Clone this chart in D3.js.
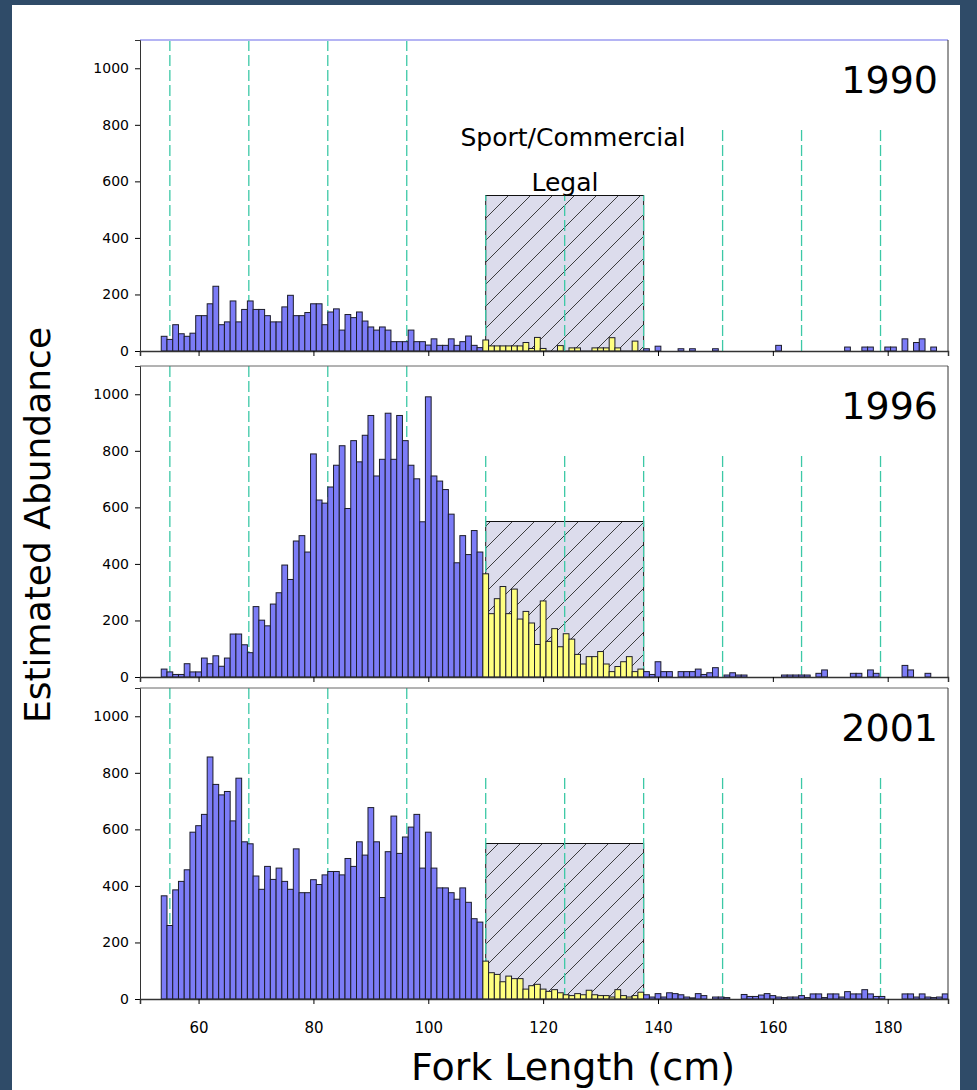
<!DOCTYPE html>
<html>
<head>
<meta charset="utf-8">
<script src="https://cdn.jsdelivr.net/npm/d3@7"></script>
<style>
  html, body { margin: 0; padding: 0; background: #2f4b68; }
  svg { display: block; }
  text { font-family: "Comic Sans MS", "DejaVu Sans", sans-serif; fill: #000; }
</style>
</head>
<body>
<main></main>
<script>
const years = ["1990", "1996", "2001"];
const firstBin = 54;

// counts per 1 cm bin, 54..190 cm
const counts1990 = [
  52, 41, 93, 61, 52, 63, 125, 125, 167, 229,
  93, 103, 177, 103, 147, 177, 147, 147, 125, 103,
  103, 156, 197, 125, 125, 136, 167, 167, 93, 138,
  149, 74, 129, 118, 138, 106, 85, 74, 85, 74,
  33, 33, 33, 74, 33, 33, 21, 43, 20, 20,
  43, 20, 33, 53, 20, 12, 39, 18, 18, 18,
  18, 18, 18, 30, 9, 48, 9, 0, 0, 19,
  0, 11, 11, 0, 0, 11, 11, 11, 47, 11,
  0, 0, 35, 0, 8, 0, 17, 0, 0, 0,
  8, 0, 8, 0, 0, 0, 8, 0, 0, 0,
  0, 0, 0, 0, 0, 0, 0, 20, 0, 0,
  0, 0, 0, 0, 0, 0, 0, 0, 0, 14,
  0, 0, 14, 14, 0, 0, 14, 14, 0, 43,
  0, 30, 43, 0, 14, 0, 0
];
const counts1996 = [
  28, 18, 9, 9, 47, 18, 18, 67, 47, 75,
  38, 67, 152, 152, 114, 86, 249, 201, 181, 258,
  298, 396, 345, 481, 500, 442, 789, 626, 615, 672,
  749, 818, 596, 836, 761, 855, 925, 711, 770, 933,
  770, 925, 836, 749, 701, 549, 991, 711, 693, 663,
  576, 404, 500, 433, 518, 442, 365, 224, 277, 320,
  224, 311, 205, 232, 191, 115, 269, 126, 171, 107,
  153, 134, 80, 46, 72, 72, 90, 46, 19, 37,
  54, 72, 19, 28, 19, 9, 54, 19, 19, 0,
  19, 19, 19, 28, 9, 15, 33, 0, 7, 15,
  7, 7, 0, 0, 0, 0, 0, 0, 7, 7,
  7, 7, 7, 0, 13, 25, 0, 0, 0, 0,
  13, 13, 0, 25, 13, 0, 0, 0, 0, 41,
  25, 0, 0, 13, 0, 0, 0
];
const counts2001 = [
  365, 260, 386, 416, 457, 590, 613, 653, 856, 759,
  722, 734, 630, 781, 556, 549, 435, 388, 469, 423,
  463, 416, 388, 531, 376, 376, 422, 405, 439, 451,
  451, 439, 497, 469, 556, 509, 677, 556, 359, 521,
  647, 515, 573, 608, 653, 463, 590, 463, 393, 393,
  376, 353, 393, 342, 284, 272, 134, 93, 87, 61,
  81, 72, 72, 35, 47, 52, 35, 27, 33, 22,
  15, 12, 19, 15, 31, 15, 12, 12, 7, 33,
  12, 7, 12, 24, 15, 7, 19, 7, 22, 19,
  15, 7, 4, 19, 12, 0, 7, 7, 5, 0,
  0, 16, 9, 9, 14, 19, 12, 7, 5, 7,
  7, 12, 5, 18, 18, 5, 18, 18, 7, 26,
  18, 18, 33, 18, 9, 9, 0, 0, 0, 18,
  18, 7, 18, 7, 5, 7, 18
];
const allCounts = [counts1990, counts1996, counts2001];

// legal slot and guide lines
const slotMin = 110;
const slotMax = 137.5;
const slotHeight = 550;
const guideLines = [55, 68.75, 82.5, 96.25, 110, 123.75, 137.5, 151.25, 165, 178.75];
const guideTopRight = 790;

const yTicks = [0, 200, 400, 600, 800, 1000];
const xTicks = [60, 80, 100, 120, 140, 160, 180];

const w = 977;
const h = 1090;
const left = 140;
const right = 948;
const panels = [
  { top: 40, bottom: 351 },
  { top: 366, bottom: 677 },
  { top: 688, bottom: 999 }
];

const svg = d3.select("main")
  .append("svg")
  .attr("width", w)
  .attr("height", h);

svg.append("rect")
  .attr("x", 12)
  .attr("y", 5)
  .attr("width", 948)
  .attr("height", h - 5)
  .attr("fill", "#fff");

const defs = svg.append("defs");
const hatch = defs.append("pattern")
  .attr("id", "hatch")
  .attr("patternUnits", "userSpaceOnUse")
  .attr("width", 22)
  .attr("height", 22);
hatch.append("rect")
  .attr("width", 22)
  .attr("height", 22)
  .attr("fill", "#dcdcec");
hatch.append("path")
  .attr("d", "M0,22 L22,0 M-3,3 L3,-3 M19,25 L25,19")
  .attr("stroke", "#2a2a2a")
  .attr("stroke-width", 0.9);

const x = d3.scaleLinear()
  .domain([49.8, 190.5])
  .range([left, right]);
const binW = x(1) - x(0);

panels.forEach((p, i) => {
  const counts = allCounts[i];
  const g = svg.append("g");

  const y = d3.scaleLinear()
    .domain([0, 1100])
    .range([p.bottom, p.top]);

  g.append("clipPath")
    .attr("id", "clip" + i)
    .append("rect")
    .attr("x", left)
    .attr("y", p.top)
    .attr("width", right - left)
    .attr("height", p.bottom - p.top);

  // hatched legal slot
  g.append("rect")
    .attr("x", x(slotMin))
    .attr("y", y(slotHeight))
    .attr("width", x(slotMax) - x(slotMin))
    .attr("height", y(0) - y(slotHeight))
    .attr("fill", "url(#hatch)")
    .attr("stroke", "#111")
    .attr("stroke-width", 1);

  g.selectAll(".guide")
    .data(guideLines)
    .enter()
    .append("line")
    .attr("class", "guide")
    .attr("x1", d => x(d))
    .attr("x2", d => x(d))
    .attr("y1", y(0))
    .attr("y2", d => {
      if (d < slotMin) return y(1100);
      if (i === 0 && d <= slotMax) return y(slotHeight);
      return y(guideTopRight);
    })
    .attr("stroke", "#3cc8a6")
    .attr("stroke-width", 1.3)
    .attr("stroke-dasharray", "11,4");

  const bins = counts.map((v, k) => ({ len: firstBin + k, value: v }))
    .filter(d => d.value > 0);

  g.append("g")
    .attr("clip-path", `url(#clip${i})`)
    .selectAll("rect")
    .data(bins)
    .enter()
    .append("rect")
    .attr("x", d => x(d.len - 0.5))
    .attr("y", d => y(d.value))
    .attr("width", binW)
    .attr("height", d => y(0) - y(d.value))
    .attr("fill", d => (d.len >= slotMin && d.len < slotMax) ? "#ffff80" : "#7c7cf7")
    .attr("stroke", "#1c1c2a")
    .attr("stroke-width", 1);

  // frame
  g.append("line")
    .attr("x1", left).attr("x2", right)
    .attr("y1", p.top).attr("y2", p.top)
    .attr("stroke", i === 0 ? "#b4b4f4" : "#666")
    .attr("stroke-width", i === 0 ? 2 : 1);
  g.append("line")
    .attr("x1", right).attr("x2", right)
    .attr("y1", p.top).attr("y2", p.bottom)
    .attr("stroke", "#333");

  const yAxis = g.append("g")
    .attr("transform", `translate(${left},0)`)
    .call(d3.axisLeft(y).tickValues(yTicks).tickFormat(d3.format("d")).tickSize(5).tickPadding(6));
  yAxis.selectAll("text").style("font-size", "14px");
  yAxis.select(".domain").attr("stroke", "#333");

  const xAxis = g.append("g")
    .attr("transform", `translate(0,${p.bottom})`)
    .call(d3.axisBottom(x).tickValues(xTicks).tickSize(5).tickPadding(18));
  xAxis.select(".domain").attr("stroke", "#333").attr("stroke-width", 1.5);
  xAxis.selectAll("text")
    .style("font-size", "15px")
    .style("display", i === 2 ? null : "none");

  g.append("text")
    .attr("x", 938)
    .attr("y", p.top + 53)
    .attr("text-anchor", "end")
    .style("font-size", "38px")
    .text(years[i]);
});

svg.append("text")
  .attr("x", 573)
  .attr("y", 146)
  .attr("text-anchor", "middle")
  .style("font-size", "25px")
  .text("Sport/Commercial");
svg.append("text")
  .attr("x", 565)
  .attr("y", 191)
  .attr("text-anchor", "middle")
  .style("font-size", "25px")
  .text("Legal");

svg.append("text")
  .attr("transform", "translate(50,525)rotate(-90)")
  .attr("text-anchor", "middle")
  .style("font-size", "36px")
  .text("Estimated Abundance");

svg.append("text")
  .attr("x", 573)
  .attr("y", 1080)
  .attr("text-anchor", "middle")
  .style("font-size", "38px")
  .text("Fork Length (cm)");
</script>
</body>
</html>
